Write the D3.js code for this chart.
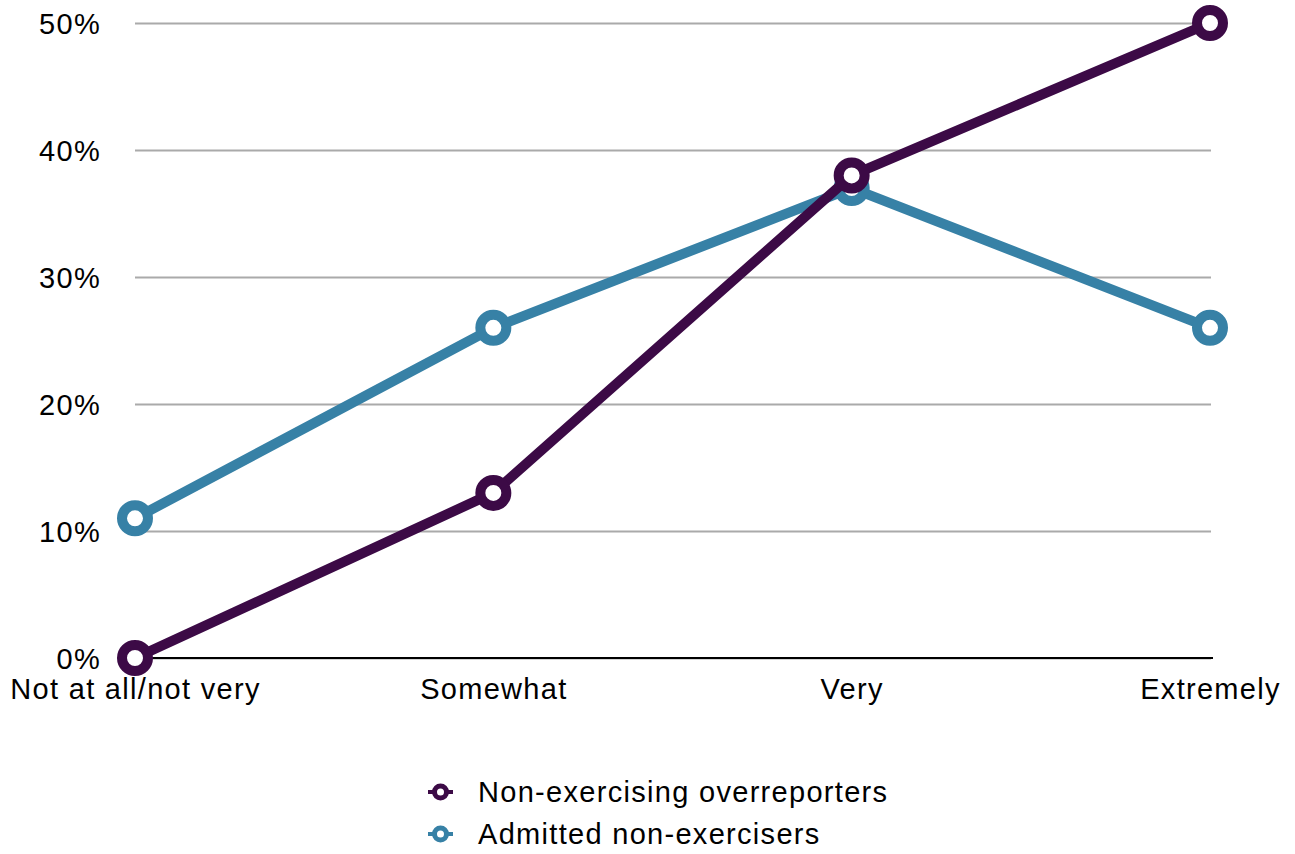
<!DOCTYPE html>
<html>
<head>
<meta charset="utf-8">
<script src="https://cdn.jsdelivr.net/npm/d3@7"></script>
<style>
  body { margin: 0; background: #fff; }
  text { font-family: "Liberation Sans", Arial, Helvetica, sans-serif; fill: #000; letter-spacing: 1.3px; }
</style>
</head>
<body>
<svg id="chart"></svg>
<script>
// chart data
const categories = ["Not at all/not very", "Somewhat", "Very", "Extremely"];
const overreporters = [0, 13, 38, 50];
const admitted = [11, 26, 37, 26];
const yTicks = [0, 10, 20, 30, 40, 50];
const seriesNames = ["Non-exercising overreporters", "Admitted non-exercisers"];

const width = 1295;
const height = 854;
const purple = "#3c0a46";
const blue = "#3781a6";

let svg = d3.select("#chart")
  .attr("width", width)
  .attr("height", height);

let xScale = d3.scalePoint()
  .domain(categories)
  .range([135, 1210]);

let yScale = d3.scaleLinear()
  .domain([0, 50])
  .range([658, 23]);

// gridlines + y labels
let yAxis = d3.axisLeft(yScale)
  .tickValues(yTicks)
  .tickFormat(d => d + "%")
  .tickSize(-(1211 - 135))
  .tickPadding(34);

let gy = svg.append("g")
  .attr("transform", "translate(135,0)")
  .call(yAxis);
gy.select(".domain").remove();
gy.selectAll(".tick line")
  .attr("stroke", "#aaaaaa")
  .attr("stroke-width", 2);
gy.selectAll(".tick text")
  .style("font-size", "29px")
  .attr("dy", "0.36em");

// baseline
svg.append("line")
  .attr("x1", 135).attr("x2", 1213)
  .attr("y1", yScale(0)).attr("y2", yScale(0))
  .attr("stroke", "#000")
  .attr("stroke-width", 2);

// x labels
let xAxis = d3.axisBottom(xScale).tickSize(0).tickPadding(20);
let gx = svg.append("g")
  .attr("transform", `translate(0, ${yScale(0)})`)
  .call(xAxis);
gx.select(".domain").remove();
gx.selectAll(".tick text").style("font-size", "29px");

// lines
let line = d3.line()
  .x((d, i) => xScale(categories[i]))
  .y(d => yScale(d));

function drawSeries(values, color) {
  svg.append("path")
    .datum(values)
    .attr("d", line)
    .attr("fill", "none")
    .attr("stroke", color)
    .attr("stroke-width", 10)
    .attr("stroke-linejoin", "round");
  svg.append("g")
    .selectAll("circle")
    .data(values)
    .enter()
    .append("circle")
      .attr("cx", (d, i) => xScale(categories[i]))
      .attr("cy", d => yScale(d))
      .attr("r", 13)
      .attr("fill", "#fff")
      .attr("stroke", color)
      .attr("stroke-width", 10);
}

drawSeries(admitted, blue);
drawSeries(overreporters, purple);

// legend
let legend = svg.append("g");
let legendColors = [purple, blue];
seriesNames.forEach((name, i) => {
  let y = 792 + i * 42;
  legend.append("line")
    .attr("x1", 428).attr("x2", 453)
    .attr("y1", y).attr("y2", y)
    .attr("stroke", legendColors[i])
    .attr("stroke-width", 4);
  legend.append("circle")
    .attr("cx", 440.5).attr("cy", y)
    .attr("r", 6)
    .attr("fill", "#fff")
    .attr("stroke", legendColors[i])
    .attr("stroke-width", 5);
  legend.append("text")
    .attr("x", 478)
    .attr("y", y)
    .attr("dy", "0.36em")
    .style("font-size", "29px")
    .text(name);
});
</script>
</body>
</html>
